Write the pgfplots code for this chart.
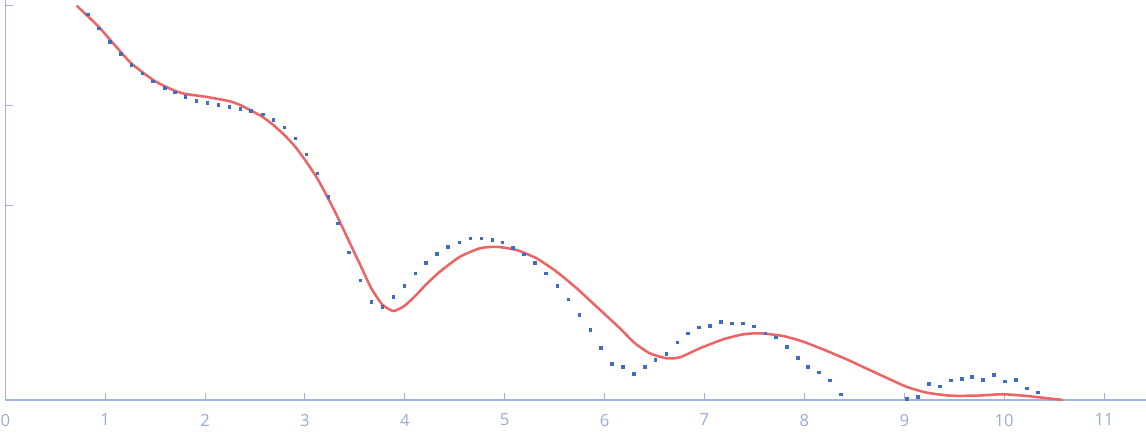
\documentclass[border=0pt]{standalone}
\usepackage{fontspec}
\setmainfont{Open Sans}
\usepackage{pgfplots}
\pgfplotsset{compat=1.18}
\definecolor{axcol}{RGB}{160,181,222}
\definecolor{labcol}{RGB}{150,172,218}
\definecolor{fitred}{RGB}{236,100,100}
\definecolor{dotblue}{RGB}{62,110,196}
\begin{document}
\begin{tikzpicture}
\begin{axis}[
  scale only axis,
  width=855.5pt, height=300pt,
  ymode=log,
  xmin=0, xmax=11.42,
  ymin=0.00113, ymax=11.3,
  axis x line*=bottom, axis y line*=left,
  axis line style={-, draw=axcol, line width=0.8pt},
  tick style={draw=axcol, line width=0.8pt},
  tick align=inside,
  major tick length=5.5pt,
  xtick={0,1,...,11},
  ytick={0.1,1,10},
  yticklabels={},
  minor tick num=0,
  log basis y=10,
  xticklabel style={font=\fontsize{12.5}{15}\selectfont, text=labcol, yshift=-7pt},
  /pgf/number format/assume math mode=true,
  clip=true,
]
\coordinate (bl) at (rel axis cs:0,0);
\coordinate (tr) at (rel axis cs:1,1);
\addplot[only marks, mark=square*, mark size=1.1pt, color=dotblue] coordinates {
(0.825,8.13) (0.935,5.89) (1.045,4.33) (1.155,3.31) (1.261,2.57) (1.371,2.09)
(1.481,1.74) (1.592,1.51) (1.696,1.35) (1.802,1.23) (1.912,1.12) (2.022,1.07)
(2.132,1.02) (2.242,0.977) (2.352,0.933) (2.462,0.891) (2.573,0.813) (2.683,0.724)
(2.793,0.603) (2.903,0.468) (3.013,0.324) (3.123,0.209) (3.233,0.123) (3.333,0.0661)
(3.443,0.0339) (3.554,0.0178) (3.664,0.01096) (3.774,0.00977) (3.884,0.0123) (3.994,0.0158)
(4.104,0.0209) (4.214,0.0269) (4.324,0.0331) (4.434,0.0389) (4.545,0.0427) (4.655,0.0468)
(4.765,0.0468) (4.875,0.0457) (4.975,0.0427) (5.085,0.0380) (5.195,0.0324) (5.305,0.0269)
(5.415,0.0209) (5.526,0.0158) (5.636,0.0115) (5.746,0.00813) (5.856,0.00575) (5.966,0.00380)
(6.076,0.00263) (6.186,0.00245) (6.296,0.00209) (6.400,0.00245) (6.507,0.00288) (6.617,0.00331)
(6.727,0.00427) (6.837,0.00525) (6.947,0.00603) (7.057,0.00631) (7.167,0.00692) (7.277,0.00661)
(7.387,0.00661) (7.497,0.00617) (7.608,0.00525) (7.718,0.00479) (7.828,0.00389) (7.938,0.00302)
(8.038,0.00245) (8.148,0.00214) (8.258,0.00178) (8.368,0.00129)
(9.029,0.00117) (9.139,0.00123) (9.249,0.00166) (9.359,0.00155) (9.469,0.00178) (9.580,0.00186)
(9.680,0.00195) (9.790,0.00182) (9.900,0.00204) (10.010,0.00174) (10.120,0.00182) (10.230,0.00148)
(10.340,0.00135)
};
\addplot[color=fitred, line width=1.9pt, smooth, tension=0.35] coordinates {
(0.715,9.91) (0.935,6.11) (1.045,4.57) (1.261,2.63) (1.481,1.79) (1.592,1.56)
(1.696,1.40) (1.802,1.30) (2.022,1.21) (2.242,1.10) (2.352,1.007) (2.449,0.897)
(2.573,0.769) (2.683,0.635) (2.793,0.505) (2.903,0.385) (3.013,0.273) (3.123,0.186)
(3.233,0.117) (3.333,0.0741) (3.443,0.0433) (3.554,0.0253) (3.664,0.0148) (3.774,0.0102)
(3.884,0.00877) (3.994,0.00984) (4.104,0.0124) (4.214,0.0162) (4.351,0.0217) (4.551,0.0306)
(4.752,0.0372) (4.919,0.0385) (5.119,0.0357) (5.319,0.0295) (5.519,0.0217) (5.720,0.0148)
(5.920,0.00968) (6.153,0.00589) (6.300,0.00420) (6.453,0.00331)
(6.621,0.00295) (6.754,0.00302) (6.954,0.00372) (7.187,0.00457) (7.387,0.00513) (7.555,0.00525)
(7.788,0.00493) (7.988,0.00433) (8.222,0.00351) (8.455,0.00279) (8.655,0.00225) (8.856,0.00182)
(9.023,0.00153) (9.223,0.00134) (9.456,0.00125) (9.724,0.00125) (9.990,0.00129) (10.224,0.00124)
(10.457,0.00117) (10.588,0.00113)
};
\end{axis}
\pgfresetboundingbox
\path ([xshift=-3.975pt,yshift=-28.5pt]bl) rectangle (tr);
\end{tikzpicture}
\end{document}
